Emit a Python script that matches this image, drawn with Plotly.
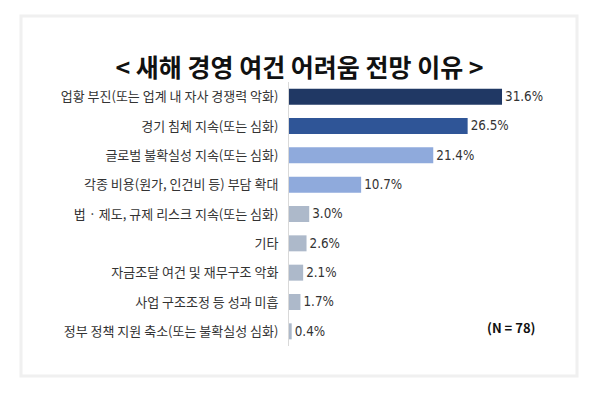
import plotly.graph_objects as go

categories = [
    "업황 부진(또는 업계 내 자사 경쟁력 악화)",
    "경기 침체 지속(또는 심화)",
    "글로벌 불확실성 지속(또는 심화)",
    "각종 비용(원가, 인건비 등) 부담 확대",
    "법 · 제도, 규제 리스크 지속(또는 심화)",
    "기타",
    "자금조달 여건 및 재무구조 악화",
    "사업 구조조정 등 성과 미흡",
    "정부 정책 지원 축소(또는 불확실성 심화)",
]
values = [31.6, 26.5, 21.4, 10.7, 3.0, 2.6, 2.1, 1.7, 0.4]
value_labels = ["31.6%", "26.5%", "21.4%", "10.7%", "3.0%", "2.6%", "2.1%", "1.7%", "0.4%"]
bar_colors = ["#203864", "#2f5597", "#8faadc", "#8faadc", "#adb9ca",
              "#adb9ca", "#adb9ca", "#adb9ca", "#adb9ca"]
title_text = "< 새해 경영 여건 어려움 전망 이유 >"
note_text = "(N = 78)"

W, H = 599, 394
L, R, T, B = 289, 39, 82, 48
pw, ph = W - L - R, H - T - B

def px_x(px):
    return (px - L) / pw

def px_y(py):
    return (H - B - py) / ph

fig = go.Figure(go.Bar(
    x=values, y=categories, orientation="h",
    marker=dict(color=bar_colors, line=dict(width=0)),
    text=value_labels, textposition="outside", cliponaxis=False,
    textfont=dict(family="Liberation Sans Narrow, DejaVu Sans Condensed, Roboto, sans-serif",
                  size=15, color="#333333"),
))

fig.update_layout(
    width=W, height=H,
    margin=dict(l=L, r=R, t=T, b=B, pad=0),
    paper_bgcolor="white", plot_bgcolor="white",
    bargap=0.455,
    showlegend=False,
    title=dict(text="<b>" + title_text + "</b>", x=0.5, xref="container", xanchor="center",
               y=1 - 68 / H, yref="container", yanchor="middle",
               font=dict(family="Noto Sans CJK KR", size=25, color="#111111")),
    xaxis=dict(range=[0, 40.2], visible=False, fixedrange=True),
    yaxis=dict(autorange="reversed", showline=True, linecolor="#d9d9d9", linewidth=1,
               ticks="", showgrid=False, zeroline=False, ticklabelstandoff=7,
               tickfont=dict(family="Noto Sans CJK KR", size=13, color="#333333")),
    font=dict(family="Noto Sans CJK KR"),
)

fig.add_shape(type="rect", xref="paper", yref="paper",
              x0=px_x(21), x1=px_x(577), y0=px_y(376), y1=px_y(16),
              line=dict(color="#f0f0f0", width=3), fillcolor="rgba(0,0,0,0)", layer="below")

fig.add_annotation(text="<b>" + note_text + "</b>", xref="paper", yref="paper",
                   x=px_x(511), y=px_y(327), xanchor="center", yanchor="middle",
                   showarrow=False, font=dict(family="Noto Sans CJK KR", size=13, color="#111111"))

fig.write_html("out.html")
